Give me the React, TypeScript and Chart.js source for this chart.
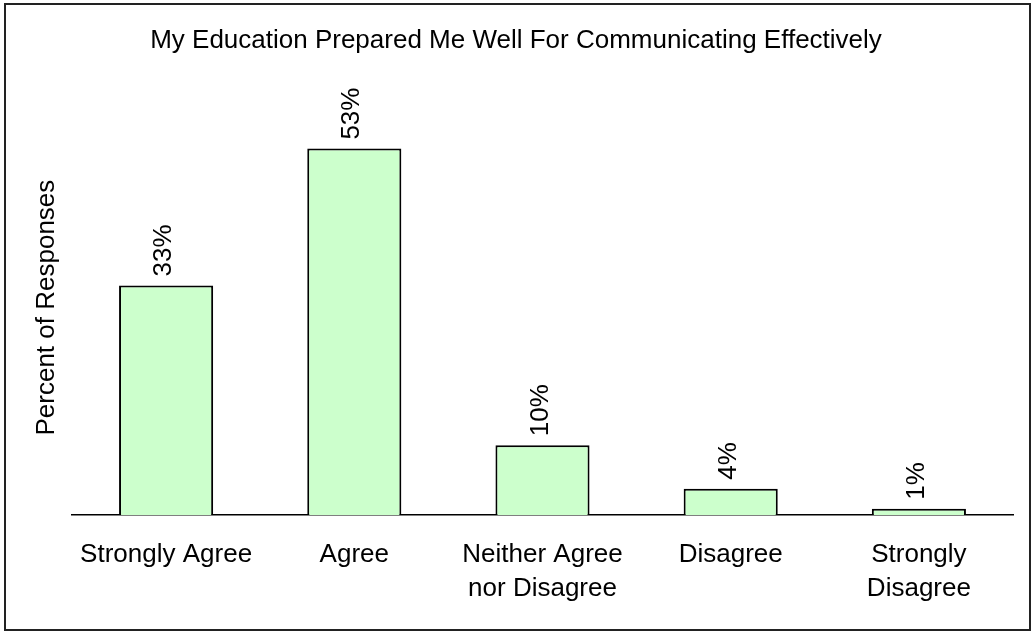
import React, { useEffect, useRef } from "react";
import { Chart, registerables } from "chart.js";

Chart.register(...registerables);

const titleText = "My Education Prepared Me Well For Communicating Effectively";
const yTitle = "Percent of Responses";
const categories: string[][] = [
  ["Strongly Agree"],
  ["Agree"],
  ["Neither Agree", "nor Disagree"],
  ["Disagree"],
  ["Strongly", "Disagree"],
];
const values: number[] = [33.2, 53, 10.1, 3.8, 0.9];
const yMax = 60;

const FONT = "'Liberation Sans', Arial, sans-serif";

export default function App() {
  const ref = useRef<HTMLCanvasElement | null>(null);

  useEffect(() => {
    if (!ref.current) return;
    const labelPlugin = {
      id: "valueLabels",
      afterDatasetsDraw(chart: any) {
        const ctx = chart.ctx;
        const meta = chart.getDatasetMeta(0);
        ctx.save();
        ctx.fillStyle = "#000";
        ctx.font = `26px ${FONT}`;
        ctx.textAlign = "left";
        ctx.textBaseline = "middle";
        meta.data.forEach((bar: any, i: number) => {
          ctx.save();
          ctx.translate(bar.x - 2, bar.y - 9);
          ctx.rotate(-Math.PI / 2);
          ctx.fillText(Math.round(values[i]) + "%", 0, 0);
          ctx.restore();
        });
        ctx.restore();
      },
    };
    const framePlugin = {
      id: "frame",
      afterDraw(chart: any) {
        const ctx = chart.ctx;
        ctx.save();
        ctx.strokeStyle = "#222";
        ctx.lineWidth = 2;
        ctx.strokeRect(5, 4, 1025, 626);
        ctx.restore();
      },
    };
    const chart = new Chart(ref.current, {
      type: "bar",
      data: {
        labels: categories,
        datasets: [
          {
            data: values,
            backgroundColor: "#CCFFCC",
            borderColor: "#000",
            borderWidth: 2,
            borderSkipped: "bottom",
            categoryPercentage: 1,
            barPercentage: 0.5,
          },
        ],
      },
      options: {
        animation: false,
        responsive: false,
        devicePixelRatio: 1,
        layout: { padding: 0 },
        plugins: {
          legend: { display: false },
          tooltip: { enabled: false },
          title: {
            display: true,
            text: titleText,
            color: "#000",
            font: { family: FONT, size: 26, weight: "normal" },
            padding: { top: 25, bottom: 44 },
          },
        },
        scales: {
          x: {
            grid: { display: false },
            border: { display: true, color: "#000", width: 1.5 },
            ticks: {
              color: "#000",
              font: { family: FONT, size: 26, lineHeight: 1.31 },
              maxRotation: 0,
              minRotation: 0,
              autoSkip: false,
              padding: 15,
            },
            afterFit(scale: any) {
              scale.height = 117;
            },
          },
          y: {
            min: 0,
            max: yMax,
            grid: { display: false },
            border: { display: false },
            ticks: { display: false },
            title: {
              display: true,
              text: yTitle,
              color: "#000",
              font: { family: FONT, size: 26 },
              padding: { top: 31, bottom: 0 },
            },
            afterFit(scale: any) {
              scale.width = 72;
            },
          },
          yRight: {
            position: "right",
            min: 0,
            max: yMax,
            grid: { display: false },
            border: { display: false },
            ticks: { display: false },
            afterFit(scale: any) {
              scale.width = 19;
            },
          },
        },
      },
      plugins: [labelPlugin, framePlugin],
    });
    return () => chart.destroy();
  }, []);

  return (
    <div style={{ position: "fixed", left: 0, top: 0, width: 1032, height: 632, background: "#fff" }}>
      <canvas ref={ref} width={1032} height={632} style={{ display: "block" }} />
    </div>
  );
}
